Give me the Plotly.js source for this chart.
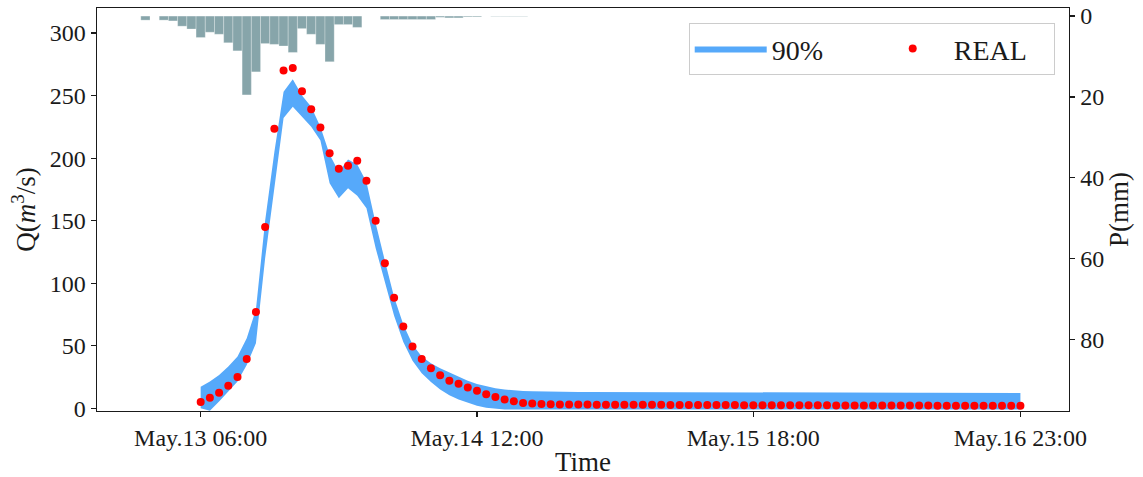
<!DOCTYPE html>
<html>
<head>
<meta charset="utf-8">
<script src="https://cdn.plot.ly/plotly-3.0.1.min.js"></script>
<style>
  html, body { margin: 0; padding: 0; background: #ffffff; }
  #chart { width: 1143px; height: 477px; }
</style>
</head>
<body>
<div id="chart"></div>
<script>
// ---- data (hourly) ----
// observed discharge Q (m3/s), hourly from May.13 06:00 to May.16 23:00
const realQ = [
  5, 8.5, 12.5, 18, 25, 39.5, 77, 145, 223.5, 270,
  272, 253.5, 239, 224.5, 204, 191.5, 194, 198, 182, 150,
  116, 88.5, 65.5, 49.5, 39.5, 32, 26.5, 22, 19.7, 16.7,
  14, 11.2, 9.1, 7, 5.6, 4.3, 3.8, 3.4, 3.2, 3.1,
  3.0, 3.0, 3.0, 2.9, 2.9, 2.9, 2.9, 2.8, 2.8, 2.8,
  2.8, 2.7, 2.7, 2.7, 2.7, 2.6, 2.6, 2.6, 2.6, 2.5,
  2.5, 2.5, 2.5, 2.5, 2.4, 2.4, 2.4, 2.4, 2.4, 2.3,
  2.3, 2.3, 2.3, 2.3, 2.2, 2.2, 2.2, 2.2, 2.2, 2.2,
  2.1, 2.1, 2.1, 2.1, 2.1, 2.0, 2.0, 2.0, 2.0, 2.0
];
// 90% band, upper and lower bounds (m3/s)
const band90Upper = [
  17.3, 21.4, 26.7, 33.4, 41.4, 56, 79, 150, 205, 253,
  263, 250, 241, 225, 203, 189, 199, 195, 181, 148,
  118, 89, 67, 51, 41.5, 36, 32, 28.5, 25, 22,
  19.5, 17.5, 16, 15, 14.3, 13.9, 13.6, 13.4, 13.3, 13.2,
  13.2, 13.1, 13.1, 13.1, 13.0, 13.0, 13.0, 13.0, 12.9, 12.9,
  12.9, 12.9, 12.9, 12.8, 12.8, 12.8, 12.8, 12.8, 12.8, 12.7,
  12.7, 12.7, 12.7, 12.7, 12.7, 12.6, 12.6, 12.6, 12.6, 12.6,
  12.6, 12.6, 12.5, 12.5, 12.5, 12.5, 12.5, 12.5, 12.5, 12.4,
  12.4, 12.4, 12.4, 12.4, 12.4, 12.4, 12.3, 12.3, 12.3, 12.3
];
const band90Lower = [
  0, -2, 5.4, 13.4, 21.4, 34.7, 52, 120, 178, 232,
  241, 233, 225, 214, 180, 168, 176, 170, 160, 128,
  100, 74, 53, 38, 28, 21, 15, 10.5, 7, 4.2,
  2, 0.5, -0.5, -1, -1, -1, -1, -1, -1, -1,
  -1, -1, -1, -1, -1, -1, -1, -1, -1, -1,
  -1, -1, -1, -1, -1, -1, -1, -1, -1, -1,
  -1, -1, -1, -1, -1, -1, -1, -1, -1, -1,
  -1, -1, -1, -1, -1, -1, -1, -1, -1, -1,
  -1, -1, -1, -1, -1, -1, -1, -1, -1, -1
];
// hourly precipitation P (mm), from May.13 00:00
const rainP = [
  1.0, 0, 1.0, 1.2, 2.5, 3.2, 5.3, 4.0, 4.5, 6.6,
  8.6, 19.5, 13.8, 6.8, 7.0, 7.4, 9.0, 3.1, 4.5, 7.0,
  11.3, 2.1, 2.1, 2.8, 0, 0, 0.85, 0.85, 0.85, 0.85,
  0.85, 0.85, 0.3, 0.45, 0.45, 0.2, 0.2, 0, 0.08, 0.08,
  0.08, 0.08
];
const flowStart = Date.UTC(2024, 4, 13, 6, 0);   // May.13 06:00
const rainStart = Date.UTC(2024, 4, 13, 0, 0);   // May.13 00:00
const HOUR = 3600000;
const tickDates = [Date.UTC(2024, 4, 13, 6), Date.UTC(2024, 4, 14, 12), Date.UTC(2024, 4, 15, 18), Date.UTC(2024, 4, 16, 23)];
const tickLabels = ['May.13 06:00', 'May.14 12:00', 'May.15 18:00', 'May.16 23:00'];

const flowTimes = realQ.map((_, i) => flowStart + i * HOUR);
const rainTimes = rainP.map((_, i) => rainStart + i * HOUR);

const FONT = 'Liberation Serif, Times New Roman, serif';
const INK = '#1a1a1a';
const BAND = 'rgb(86,169,250)';

const traces = [
  {
    x: flowTimes, y: band90Lower, type: 'scatter', mode: 'lines',
    line: { width: 0, color: BAND },
    showlegend: false, hoverinfo: 'skip'
  },
  {
    x: flowTimes, y: band90Upper, type: 'scatter', mode: 'lines',
    fill: 'tonexty', fillcolor: BAND,
    line: { width: 0, color: BAND },
    name: '90%'
  },
  {
    x: flowTimes, y: realQ, type: 'scatter', mode: 'markers',
    marker: { color: '#ff0000', size: 8 },
    name: 'REAL'
  },
  {
    x: rainTimes, y: rainP, type: 'bar', yaxis: 'y2',
    width: HOUR,
    marker: { color: '#87a5aa', line: { color: 'rgba(255,255,255,0.45)', width: 0.6 } },
    showlegend: false
  }
];

const layout = {
  width: 1143, height: 477,
  margin: { l: 97, r: 74, t: 8, b: 66 },
  paper_bgcolor: '#ffffff', plot_bgcolor: '#ffffff',
  font: { family: FONT, color: INK, size: 24 },
  showlegend: true,
  bargap: 0,
  xaxis: {
    type: 'date',
    range: [Date.UTC(2024, 4, 12, 18, 44, 40), Date.UTC(2024, 4, 17, 4, 16, 30)],
    tickmode: 'array', tickvals: tickDates, ticktext: tickLabels,
    ticks: 'outside', ticklen: 5, tickwidth: 1.2, tickcolor: INK,
    showline: true, linecolor: INK, linewidth: 1.4, mirror: true,
    showgrid: false, zeroline: false,
    tickfont: { family: FONT, size: 24, color: INK },
    title: { text: 'Time', font: { family: FONT, size: 27, color: INK }, standoff: 6 }
  },
  yaxis: {
    range: [-2.1, 320],
    tickvals: [0, 50, 100, 150, 200, 250, 300],
    ticks: 'outside', ticklen: 5, tickwidth: 1.2, tickcolor: INK,
    showline: true, linecolor: INK, linewidth: 1.4, mirror: true,
    showgrid: false, zeroline: false,
    tickfont: { family: FONT, size: 24, color: INK },
    title: { text: 'Q(<i>m</i><sup>3</sup>/s)', font: { family: FONT, size: 27, color: INK }, standoff: 6 }
  },
  yaxis2: {
    overlaying: 'y', side: 'right',
    range: [97.7, -2.0],
    tickvals: [0, 20, 40, 60, 80],
    ticks: 'outside', ticklen: 5, tickwidth: 1.2, tickcolor: INK,
    showline: true, linecolor: INK, linewidth: 1.4,
    showgrid: false, zeroline: false,
    tickfont: { family: FONT, size: 24, color: INK },
    title: { text: 'P(mm)', font: { family: FONT, size: 27, color: INK }, standoff: 1 }
  },
  legend: {
    orientation: 'h', traceorder: 'normal',
    x: 0.9853, xanchor: 'right', y: 0.963, yanchor: 'top',
    bgcolor: '#ffffff', bordercolor: '#cccccc', borderwidth: 1,
    font: { family: FONT, size: 28, color: INK },
    itemwidth: 72, entrywidth: 95
  }
};

Plotly.newPlot('chart', traces, layout, { displayModeBar: false, staticPlot: true });
</script>
</body>
</html>
